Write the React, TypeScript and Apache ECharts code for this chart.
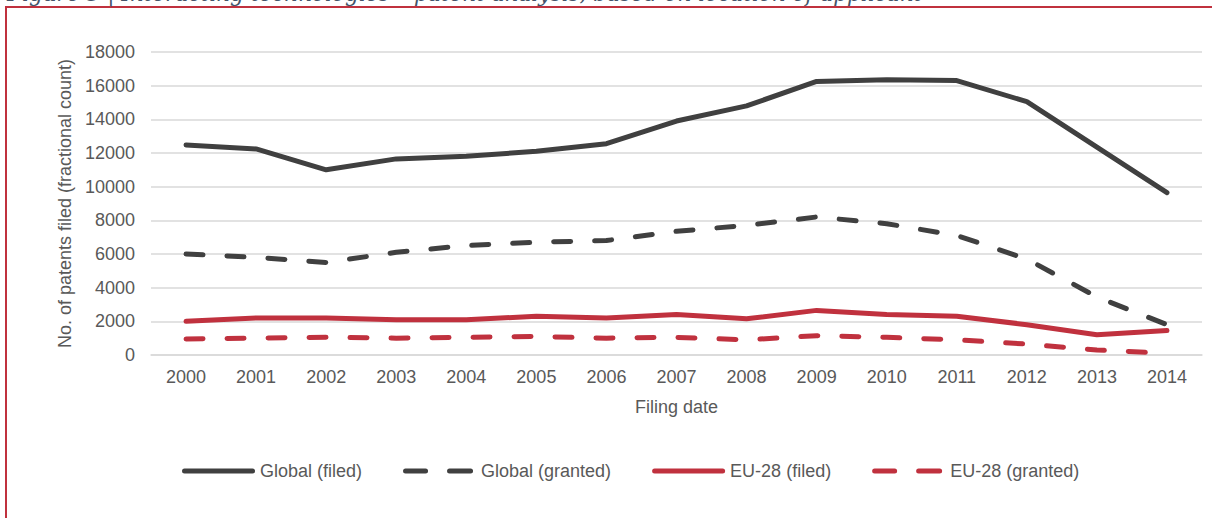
import React, { useEffect, useRef } from "react";
import * as echarts from "echarts";

const years = ["2000", "2001", "2002", "2003", "2004", "2005", "2006", "2007", "2008", "2009", "2010", "2011", "2012", "2013", "2014"];
const globalFiled = [12480, 12240, 11000, 11650, 11800, 12100, 12550, 13900, 14800, 16250, 16350, 16300, 15050, 12350, 9650];
const globalGranted = [6000, 5800, 5500, 6100, 6500, 6700, 6800, 7350, 7700, 8200, 7800, 7100, 5700, 3450, 1800];
const euFiled = [2000, 2200, 2200, 2100, 2100, 2300, 2200, 2400, 2150, 2650, 2400, 2300, 1800, 1200, 1450];
const euGranted = [950, 1000, 1050, 1000, 1050, 1100, 1000, 1050, 900, 1150, 1050, 900, 650, 300, 100];
const seriesNames = ["Global (filed)", "Global (granted)", "EU-28 (filed)", "EU-28 (granted)"];
const titleText = "Figure 5 | Interacting technologies \u2013 patent analysis, based on location of applicant";

const DARK = "#404040";
const RED = "#c0313e";
const FONT = "'Liberation Sans', Arial, sans-serif";
const SOLID_ICON = "path://M2.5,0H70.5A2.5,2.5 0 0 1 70.5,5H2.5A2.5,2.5 0 0 1 2.5,0Z";
const DASH_ICON =
  "path://M2.5,0H22.5A2.5,2.5 0 0 1 22.5,5H2.5A2.5,2.5 0 0 1 2.5,0Z M46.5,0H67.5A2.5,2.5 0 0 1 67.5,5H46.5A2.5,2.5 0 0 1 46.5,0Z M72.9,2.4H73V2.6H72.9Z";

export default function App() {
  const ref = useRef<HTMLDivElement>(null);
  useEffect(() => {
    if (!ref.current) return;
    const chart = echarts.init(ref.current, undefined, { renderer: "svg" });
    const mk = (name: string, data: number[], color: string, dashed: boolean) => ({
      name,
      type: "line",
      data,
      symbol: "none",
      lineStyle: {
        color,
        width: 5,
        type: dashed ? [17, 24] : "solid",
        cap: "round",
        join: "round",
      },
      itemStyle: { color },
    });
    chart.setOption({
      animation: false,
      textStyle: { fontFamily: FONT },
      grid: { left: 151, right: 10, top: 52, bottom: 163, containLabel: false },
      xAxis: {
        type: "category",
        data: years,
        boundaryGap: true,
        axisLine: { show: true, lineStyle: { color: "#d9d9d9", width: 1.5 } },
        axisTick: { show: false },
        axisLabel: { color: "#595959", fontSize: 18, margin: 13, fontFamily: FONT },
        name: "Filing date",
        nameLocation: "middle",
        nameGap: 43,
        nameTextStyle: { color: "#595959", fontSize: 18, fontFamily: FONT },
      },
      yAxis: {
        type: "value",
        min: 0,
        max: 18000,
        interval: 2000,
        axisLine: { show: false },
        axisTick: { show: false },
        axisLabel: {
          color: "#595959",
          fontSize: 18,
          margin: 16,
          fontFamily: FONT,
          formatter: (v: number) => String(v),
        },
        splitLine: { lineStyle: { color: "#d9d9d9", width: 1.5 } },
        name: "No. of patents filed (fractional count)",
        nameLocation: "middle",
        nameGap: 70,
        nameTextStyle: { color: "#595959", fontSize: 18, fontFamily: FONT },
      },
      legend: {
        data: [
          { name: seriesNames[0], icon: SOLID_ICON },
          { name: seriesNames[1], icon: DASH_ICON },
          { name: seriesNames[2], icon: SOLID_ICON },
          { name: seriesNames[3], icon: DASH_ICON },
        ],
        left: 177,
        top: 457,
        itemWidth: 73,
        itemHeight: 5,
        itemGap: 41,
        textStyle: { color: "#595959", fontSize: 18, fontFamily: FONT },
      },
      graphic: [
        {
          type: "rect",
          shape: { x: 6, y: 7, width: 1400, height: 800 },
          style: { fill: "none", stroke: RED, lineWidth: 2 },
          silent: true,
        },
        {
          type: "text",
          x: 7,
          y: -6.5,
          style: {
            text: titleText,
            font: "italic 21.6px 'DejaVu Serif', serif",
            fill: "#44546a",
            verticalAlign: "middle",
          },
          silent: true,
        },
      ],
      series: [
        mk(seriesNames[0], globalFiled, DARK, false),
        mk(seriesNames[1], globalGranted, DARK, true),
        mk(seriesNames[2], euFiled, RED, false),
        mk(seriesNames[3], euGranted, RED, true),
      ],
    });
    return () => chart.dispose();
  }, []);
  return (
    <div
      ref={ref}
      style={{ position: "absolute", left: 0, top: 0, width: 1212, height: 518, background: "#ffffff" }}
    />
  );
}
